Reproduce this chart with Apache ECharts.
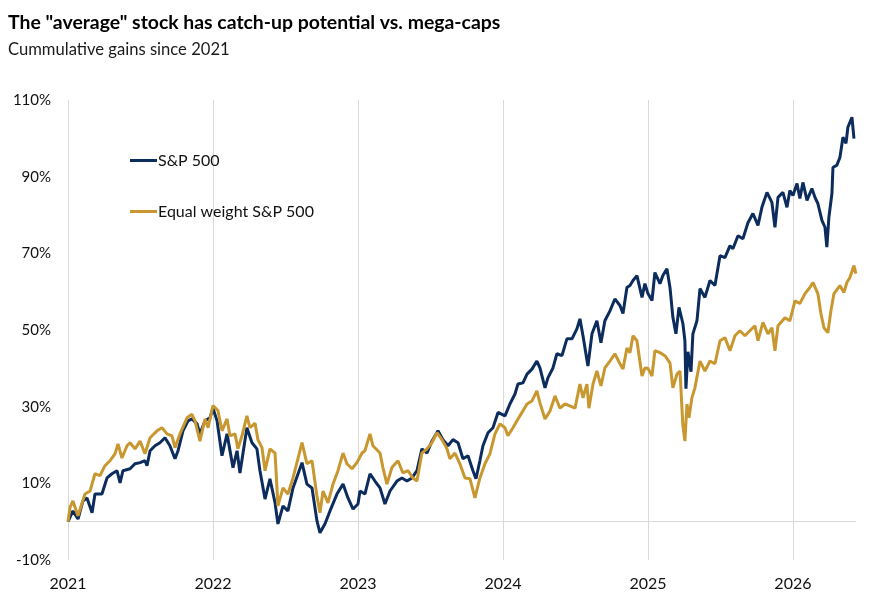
<!DOCTYPE html>
<html>
<head>
<meta charset="utf-8">
<script src="https://cdn.jsdelivr.net/npm/echarts@6/dist/echarts.min.js"></script>
<style>
html,body{margin:0;padding:0;background:#fff;}
#chart{width:870px;height:604px;}
</style>
</head>
<body>
<div id="chart"></div>
<script>
// ---- Data (decimal years, cumulative % gain) ----
const spxYears = [2021.000,2021.034,2021.069,2021.103,2021.131,2021.166,2021.186,2021.234,2021.269,2021.303,2021.338,2021.359,2021.379,2021.428,2021.462,2021.497,2021.531,2021.545,2021.566,2021.600,2021.634,2021.669,2021.703,2021.738,2021.759,2021.793,2021.828,2021.855,2021.890,2021.910,2021.945,2021.979,
2022.000,2022.028,2022.062,2022.097,2022.138,2022.166,2022.186,2022.234,2022.269,2022.303,2022.324,2022.359,2022.393,2022.428,2022.448,2022.483,2022.517,2022.552,2022.614,2022.648,2022.683,2022.717,2022.738,2022.772,2022.807,2022.855,2022.897,2022.931,2022.966,
2023.000,2023.014,2023.048,2023.083,2023.117,2023.152,2023.186,2023.221,2023.269,2023.303,2023.338,2023.372,2023.407,2023.441,2023.476,2023.510,2023.552,2023.586,2023.621,2023.655,2023.690,2023.724,2023.759,2023.793,2023.814,2023.841,2023.862,2023.897,2023.931,2023.966,
2023.979,2024.014,2024.048,2024.083,2024.103,2024.138,2024.166,2024.200,2024.234,2024.255,2024.290,2024.310,2024.345,2024.372,2024.407,2024.441,2024.476,2024.510,2024.531,2024.552,2024.586,2024.614,2024.648,2024.676,2024.703,2024.738,2024.772,2024.807,2024.828,2024.855,2024.876,2024.897,2024.924,2024.959,2024.979,
2025.000,2025.028,2025.048,2025.083,2025.103,2025.131,2025.152,2025.172,2025.193,2025.214,2025.241,2025.255,2025.262,2025.276,2025.297,2025.310,2025.338,2025.359,2025.393,2025.428,2025.462,2025.497,2025.531,2025.566,2025.586,2025.621,2025.655,2025.690,2025.724,2025.759,2025.786,2025.821,2025.855,2025.876,2025.897,2025.931,2025.959,2025.979,
2026.000,2026.028,2026.048,2026.069,2026.097,2026.131,2026.152,2026.172,2026.200,2026.221,2026.234,2026.248,2026.269,2026.276,2026.303,2026.324,2026.345,2026.366,2026.379,2026.407,2026.421];
const spxValues = [0,2.8,0.7,5.4,6.2,2.3,7.2,7.2,11.4,12.5,13.3,10.1,13.3,13.8,15.1,15.4,15.9,14.6,18.5,19.8,20.6,21.9,19.8,16.4,18.5,23.7,26.3,26.8,25.5,22.9,26.3,27.1,
29.6,26.3,17.2,22.9,14.1,18.5,12.7,24.5,20.6,19.0,13.3,5.9,11.2,4.9,-0.6,4.1,2.8,8.8,15.4,9.8,8.8,0.2,-2.9,-0.6,2.8,7.2,9.8,6.2,3.3,
4.6,8.0,7.2,12.5,10.6,8.8,4.6,8.0,10.6,11.4,10.6,11.4,13.3,19.0,17.9,21.0,23.7,21.4,19.8,21.4,20.6,16.4,17.2,13.3,11.2,15.9,19.8,23.2,24.5,28.5,
28.8,27.6,30.7,33.3,35.9,36.2,38.5,39.8,41.9,40.1,34.9,37.5,40.1,43.8,43.3,47.7,47.7,50.3,52.9,48.5,40.6,49.0,52.4,46.7,52.4,55.0,58.1,56.4,54.3,61.1,61.6,62.9,64.2,58.5,62.1,
59.5,57.7,65.0,62.1,64.2,66.0,61.1,53.3,49.0,55.9,51.7,47.2,34.7,44.3,39.1,49.0,52.4,60.8,58.5,62.9,61.6,69.4,68.9,72.0,71.2,74.6,73.8,78.0,80.4,77.3,82.0,85.9,83.3,76.8,84.6,85.9,82.0,86.4,
85.1,88.2,84.3,88.5,83.8,86.9,84.6,83.0,78.6,76.8,71.6,79.4,85.6,92.4,93.0,95.0,100.3,98.7,102.9,105.5,99.9];

const ewYears = [2021.000,2021.014,2021.034,2021.069,2021.117,2021.152,2021.186,2021.221,2021.255,2021.290,2021.324,2021.345,2021.372,2021.407,2021.428,2021.462,2021.497,2021.531,2021.566,2021.614,2021.648,2021.683,2021.717,2021.738,2021.772,2021.821,2021.855,2021.876,2021.910,2021.945,2021.966,
2022.000,2022.034,2022.062,2022.097,2022.117,2022.152,2022.172,2022.200,2022.234,2022.255,2022.290,2022.310,2022.338,2022.359,2022.393,2022.428,2022.448,2022.483,2022.517,2022.552,2022.579,2022.614,2022.648,2022.683,2022.717,2022.738,2022.759,2022.793,2022.828,2022.862,2022.897,2022.924,2022.959,2022.993,
2023.028,2023.048,2023.083,2023.103,2023.152,2023.172,2023.200,2023.234,2023.276,2023.310,2023.345,2023.379,2023.407,2023.441,2023.476,2023.510,2023.545,2023.579,2023.614,2023.634,2023.669,2023.703,2023.738,2023.772,2023.807,2023.841,2023.876,2023.910,2023.945,2023.966,
2023.979,2024.014,2024.034,2024.069,2024.117,2024.166,2024.200,2024.234,2024.255,2024.290,2024.324,2024.359,2024.393,2024.428,2024.462,2024.497,2024.531,2024.552,2024.579,2024.593,2024.621,2024.648,2024.676,2024.703,2024.738,2024.772,2024.807,2024.828,2024.855,2024.876,2024.897,2024.924,2024.959,2024.979,
2025.000,2025.028,2025.048,2025.083,2025.117,2025.152,2025.172,2025.200,2025.221,2025.241,2025.255,2025.269,2025.283,2025.303,2025.324,2025.359,2025.393,2025.428,2025.462,2025.497,2025.531,2025.566,2025.600,2025.634,2025.669,2025.703,2025.738,2025.759,2025.793,2025.828,2025.855,2025.876,2025.897,2025.910,2025.945,2025.979,
2026.014,2026.048,2026.083,2026.117,2026.138,2026.172,2026.193,2026.214,2026.241,2026.262,2026.283,2026.324,2026.352,2026.372,2026.393,2026.421,2026.434];
const ewValues = [0,3.7,5.4,1.5,7.2,8.0,12.5,12.0,14.6,15.9,17.7,20.3,16.6,19.8,20.6,19.0,21.0,17.7,21.9,23.7,24.5,22.9,22.4,19.3,22.9,27.1,28.0,26.3,21.0,26.8,24.5,
30.3,29.0,23.7,26.8,22.4,22.9,19.0,22.4,27.6,24.5,25.7,21.4,19.3,13.3,19.0,17.9,4.1,8.8,7.2,11.4,15.4,20.6,15.1,15.9,6.7,2.3,8.0,4.9,9.8,13.3,17.9,15.1,13.8,15.4,
17.9,18.5,22.9,19.8,17.9,14.1,9.8,14.1,15.9,12.7,13.3,11.4,10.6,17.9,19.0,20.6,23.2,21.4,19.0,16.4,17.9,15.1,11.4,11.2,6.2,11.4,15.1,17.7,22.9,24.5,
25.5,24.5,22.4,24.5,27.6,30.7,31.5,34.1,31.0,26.8,28.8,32.8,29.6,30.7,30.2,29.6,35.9,32.3,35.9,29.6,35.9,39.3,35.4,40.1,41.9,43.8,41.2,39.8,45.3,44.1,48.5,47.2,38.0,40.1,
40.0,38.0,44.6,44.1,43.3,41.4,34.9,38.5,39.3,25.0,21.0,30.7,27.1,32.3,34.9,41.9,39.3,41.9,41.2,47.2,48.0,44.6,48.5,49.8,48.5,49.8,51.1,47.2,52.0,49.0,50.6,44.6,51.1,51.6,53.2,52.4,
57.6,56.9,59.5,61.1,62.4,59.5,54.3,50.6,49.3,55.0,59.5,61.6,59.8,62.4,63.7,66.8,64.7];

const yearTicks = [2021, 2022, 2023, 2024, 2025, 2026];
const yTickLabels = ['-10%', '10%', '30%', '50%', '70%', '90%', '110%'];

// Value axis min must be a multiple of the interval, so plot values shifted by +10
const Y_SHIFT = 10;
const pair = (xs, vs) => xs.map((x, i) => [x, vs[i] + Y_SHIFT]);

const FONT = 'Lato';
const NAVY = '#0b2c5d';
const GOLD = '#c8972f';
const chart = echarts.init(document.getElementById('chart'), null, {renderer: 'canvas'});
chart.setOption({
  animation: false,
  backgroundColor: '#ffffff',
  textStyle: {fontFamily: FONT},
  title: [
    {text: 'The "average" stock has catch-up potential vs. mega-caps', left: 8, top: 13, padding: 0,
     textStyle: {fontFamily: FONT, fontSize: 19.4, fontWeight: 'bold', color: '#000000'}},
    {text: 'Cummulative gains since 2021', left: 8, top: 41, padding: 0,
     textStyle: {fontFamily: FONT, fontSize: 16.6, fontWeight: 'normal', color: '#1a1a1a'}}
  ],
  legend: {
    orient: 'vertical', left: 130, top: 151, itemGap: 32, padding: 0,
    icon: 'rect', itemWidth: 27, itemHeight: 3,
    textStyle: {fontFamily: FONT, fontSize: 16, color: '#111111', lineHeight: 19, padding: [0, 0, 0, -4]},
    data: ['S&P 500', 'Equal weight S&P 500']
  },
  grid: {left: 68, right: 14, top: 100, bottom: 44, containLabel: false},
  xAxis: {
    type: 'value', min: 2021, max: 2026.435, interval: 1,
    axisLine: {show: false}, axisTick: {show: false},
    splitLine: {show: true, showMaxLine: false, lineStyle: {color: '#d9d9d9', width: 1}},
    axisLabel: {
      margin: 16, fontSize: 16, color: '#111111', fontFamily: FONT, showMaxLabel: false,
      formatter: v => (yearTicks.indexOf(Math.round(v)) >= 0 && Math.abs(v - Math.round(v)) < 1e-6) ? String(Math.round(v)) : ''
    }
  },
  yAxis: {
    type: 'value', min: 0, max: 120, interval: 20,
    axisLine: {show: false}, axisTick: {show: false},
    splitLine: {show: false},
    axisLabel: {
      margin: 17, fontSize: 15, color: '#111111', fontFamily: FONT,
      formatter: v => yTickLabels[Math.round(v / 20)] || ''
    }
  },
  series: [
    {
      name: 'S&P 500', type: 'line', showSymbol: false, symbol: 'none',
      data: pair(spxYears, spxValues),
      lineStyle: {color: NAVY, width: 3}, itemStyle: {color: NAVY},
      z: 2,
      markLine: {
        silent: true, symbol: ['none', 'none'], z: 1,
        label: {show: false},
        lineStyle: {color: '#d9d9d9', width: 1, type: 'solid'},
        data: [{yAxis: Y_SHIFT}]
      }
    },
    {
      name: 'Equal weight S&P 500', type: 'line', showSymbol: false, symbol: 'none',
      data: pair(ewYears, ewValues),
      lineStyle: {color: GOLD, width: 3}, itemStyle: {color: GOLD},
      z: 3
    }
  ]
});
</script>
</body>
</html>
